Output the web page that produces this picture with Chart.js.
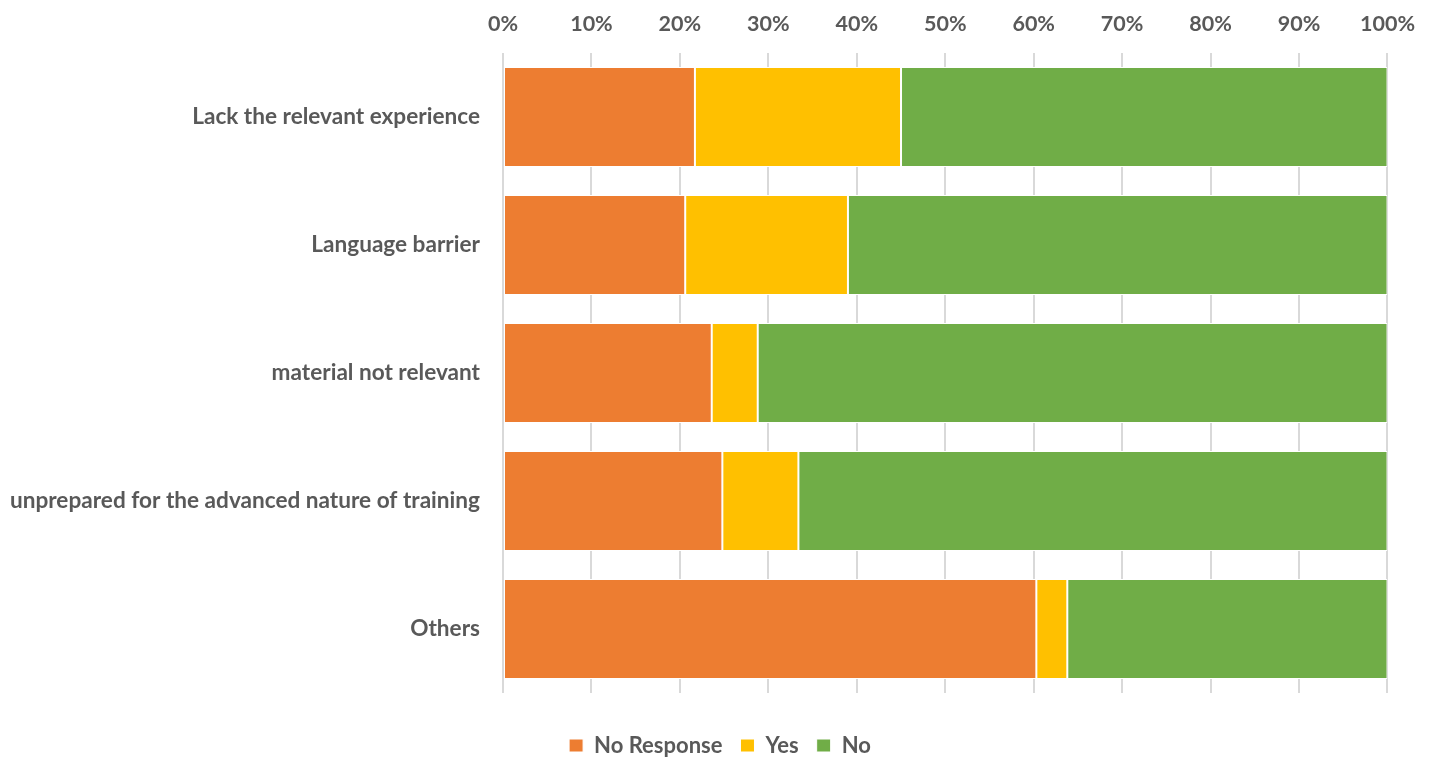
<!DOCTYPE html>
<html>
<head>
<meta charset="utf-8">
<script src="https://cdn.jsdelivr.net/npm/chart.js@4/dist/chart.umd.min.js"></script>
<style>
html,body{margin:0;padding:0;background:#fff;overflow:hidden;}
#wrap{width:1431px;height:757px;}
</style>
</head>
<body>
<div id="wrap"><canvas id="c" width="1431" height="757"></canvas></div>
<script>
const categories = [
  'Lack the relevant experience',
  'Language barrier',
  'material not relevant',
  'unprepared for the advanced nature of training',
  'Others'
];
const noResponse = [21.7, 20.6, 23.6, 24.8, 60.3];
const yes = [23.3, 18.4, 5.2, 8.6, 3.5];
const no = [55.0, 61.0, 71.2, 66.6, 36.2];
const seriesNames = ['No Response', 'Yes', 'No'];
const xTicks = [0, 10, 20, 30, 40, 50, 60, 70, 80, 90, 100];

const FONT = 'Lato, "Open Sans", sans-serif';
const TXT = '#595959';

new Chart(document.getElementById('c'), {
  type: 'bar',
  data: {
    labels: categories,
    datasets: [
      { label: seriesNames[0], data: noResponse, backgroundColor: '#ED7D31' },
      { label: seriesNames[1], data: yes, backgroundColor: '#FFC000' },
      { label: seriesNames[2], data: no, backgroundColor: '#70AD47' }
    ].map(d => Object.assign(d, {
      borderColor: '#ffffff', borderWidth: 1, borderSkipped: false,
      categoryPercentage: 1.0, barPercentage: 0.78
    }))
  },
  options: {
    indexAxis: 'y',
    responsive: false,
    animation: false,
    devicePixelRatio: 1,
    layout: { padding: { left: 9, right: 0, top: 0, bottom: -9.5 } },
    scales: {
      x: {
        position: 'top',
        stacked: true,
        min: 0, max: 100,
        afterBuildTicks: s => { s.ticks = xTicks.map(v => ({ value: v })); },
        afterFit: s => { s.height = 53; },
        grid: { color: '#D9D9D9', lineWidth: 2, drawTicks: false },
        border: { display: false },
        ticks: {
          callback: v => v + '%',
          color: TXT, padding: 16,
          font: { family: FONT, size: 21.5, weight: 'bold' },
          maxRotation: 0
        }
      },
      y: {
        stacked: true,
        afterFit: s => { s.width = 494; },
        grid: { display: false, drawTicks: false },
        border: { display: false },
        ticks: {
          color: TXT, padding: 23,
          font: { family: FONT, size: 22.6, weight: 'bold' }
        }
      },
      y2: {
        axis: 'y',
        position: 'right',
        display: true,
        afterFit: s => { s.width = 40; },
        grid: { display: false, drawTicks: false },
        border: { display: false },
        ticks: { display: false }
      }
    },
    plugins: {
      legend: {
        position: 'bottom',
        title: { display: true, text: '', font: { size: 10 }, padding: { top: 11.5, bottom: 0 } },
        labels: {
          boxWidth: 14, boxHeight: 13, padding: 18, color: TXT,
          font: { family: FONT, size: 22, weight: 'bold' }
        }
      },
      tooltip: { enabled: false }
    }
  }
});
</script>
</body>
</html>
